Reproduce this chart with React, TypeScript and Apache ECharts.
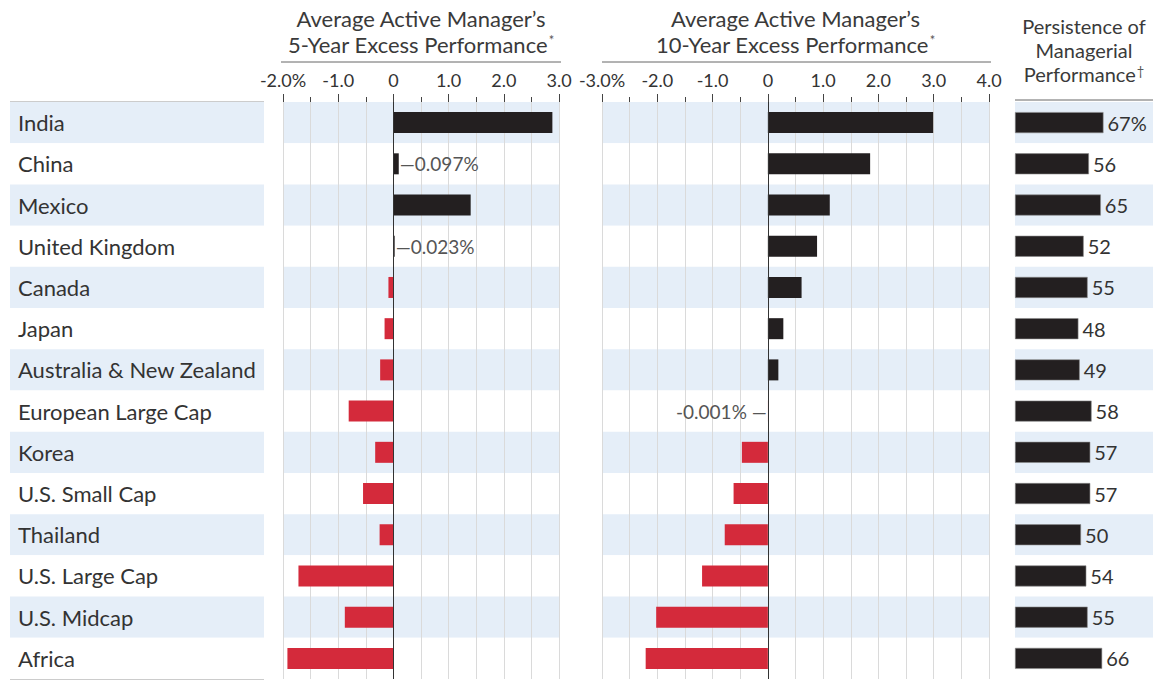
import React, { useEffect, useRef } from "react";
import * as echarts from "echarts";

const categories = [
  "India",
  "China",
  "Mexico",
  "United Kingdom",
  "Canada",
  "Japan",
  "Australia & New Zealand",
  "European Large Cap",
  "Korea",
  "U.S. Small Cap",
  "Thailand",
  "U.S. Large Cap",
  "U.S. Midcap",
  "Africa",
];
const fiveYear = [2.88, 0.097, 1.4, 0.023, -0.09, -0.16, -0.24, -0.81, -0.33, -0.55, -0.25, -1.72, -0.88, -1.92];
const tenYear = [2.99, 1.85, 1.12, 0.89, 0.61, 0.28, 0.19, -0.001, -0.47, -0.62, -0.78, -1.19, -2.02, -2.21];
const persistence = [67, 56, 65, 52, 55, 48, 49, 58, 57, 57, 50, 54, 55, 66];
const annotatedFive = ["China", "United Kingdom"];
const annotatedTen = ["European Large Cap"];

const FONT = "Lato, 'Open Sans', sans-serif";
const BLACK = "#231f20";
const RED = "#d42a3b";
const BAND = "#e5eef8";
const GRID_LINE = "#dadada";
const TEXT = "#333";

const ROW_TOP = 102;
const ROW_H = 577;
const G_LABEL = { left: 10, width: 254 };
const G1 = { left: 283, width: 276 };
const G2 = { left: 602, width: 387 };
const G3 = { left: 1015, width: 138 };

function tickFmt(min: number) {
  return (v: number) => (v === min ? v.toFixed(1) + "%" : v === 0 ? "0" : v.toFixed(1));
}

function valueAxis(gridIndex: number, min: number, max: number) {
  return {
    type: "value",
    gridIndex,
    position: "top",
    min,
    max,
    interval: 1,
    z: 1,
    axisLine: { show: false },
    axisTick: { show: true, length: 8, lineStyle: { color: "#444" } },
    minorTick: { show: true, splitNumber: 2, length: 5, lineStyle: { color: "#444" } },
    splitLine: { show: true, lineStyle: { color: GRID_LINE, width: 1 } },
    minorSplitLine: { show: true, lineStyle: { color: GRID_LINE, width: 1 } },
    axisLabel: {
      formatter: tickFmt(min),
      fontFamily: FONT,
      fontSize: 18,
      color: TEXT,
      margin: 13,
    },
  };
}

function catAxis(gridIndex: number, showLabels: boolean) {
  return {
    type: "category",
    gridIndex,
    data: categories,
    inverse: true,
    z: 0,
    axisLine: { show: false },
    axisTick: { show: false },
    splitLine: { show: false },
    splitArea: { show: true, areaStyle: { color: [BAND, "#ffffff"] } },
    axisLabel: showLabels
      ? { show: true, inside: true, margin: 8, fontFamily: FONT, fontSize: 22, color: TEXT }
      : { show: false },
  };
}

const zeroLine = {
  silent: true,
  symbol: "none",
  label: { show: false },
  lineStyle: { color: "#333", width: 1, type: "solid" },
  data: [{ xAxis: 0 }],
};

function excessSeries(
  values: number[],
  xi: number,
  annotated: string[],
  pos: "left" | "right" | ((v: number) => "left" | "right")
) {
  return {
    type: "bar",
    xAxisIndex: xi,
    yAxisIndex: xi,
    barWidth: 21,
    markLine: zeroLine,
    data: values.map((v, i) => {
      const item: any = { value: v, itemStyle: { color: v >= 0 ? BLACK : RED } };
      if (annotated.includes(categories[i])) {
        const p = typeof pos === "function" ? pos(v) : pos;
        item.label = {
          show: true,
          position: p,
          distance: 1,
          formatter: p === "right" ? "—{c}%" : "{c}% —",
          fontFamily: FONT,
          fontSize: 19,
          color: "#555",
        };
      }
      return item;
    }),
  };
}

function titleText(lines: string[], sup: string) {
  return lines.join("\n") + "{sup|" + sup + "}";
}

export default function App() {
  const ref = useRef<HTMLDivElement>(null);
  useEffect(() => {
    if (!ref.current) return;
    const chart = echarts.init(ref.current, null, { renderer: "svg" });
    const supStyle = { fontSize: 13, fontFamily: FONT, color: "#555", verticalAlign: "top", lineHeight: 16, padding: [2, 0, 0, 1] };
    const titleStyle = (size: number, lh: number) => ({
      fontFamily: FONT,
      fontSize: size,
      fontWeight: "normal",
      color: "#3a3a3a",
      lineHeight: lh,
      rich: { sup: supStyle },
    });
    const lineStyle = { stroke: "#666", lineWidth: 1 };
    const option: any = {
      animation: false,
      backgroundColor: "#ffffff",
      title: [
        {
          text: titleText(["Average Active Manager’s", "5-Year Excess Performance"], "*"),
          left: G1.left + G1.width / 2,
          top: 5,
          textAlign: "center",
          padding: 0,
          textStyle: titleStyle(22, 26),
        },
        {
          text: titleText(["Average Active Manager’s", "10-Year Excess Performance"], "*"),
          left: G2.left + G2.width / 2,
          top: 5,
          textAlign: "center",
          padding: 0,
          textStyle: titleStyle(22, 26),
        },
        {
          text: titleText(["Persistence of", "Managerial", "Performance"], "†"),
          left: G3.left + G3.width / 2,
          top: 14,
          textAlign: "center",
          padding: 0,
          textStyle: titleStyle(20, 24),
        },
      ],
      grid: [
        { left: G_LABEL.left, width: G_LABEL.width, top: ROW_TOP, height: ROW_H },
        { left: G1.left, width: G1.width, top: ROW_TOP, height: ROW_H },
        { left: G2.left, width: G2.width, top: ROW_TOP, height: ROW_H },
        { left: G3.left, width: G3.width, top: ROW_TOP, height: ROW_H },
      ],
      xAxis: [
        { type: "value", gridIndex: 0, show: false, min: 0, max: 1 },
        valueAxis(1, -2, 3),
        valueAxis(2, -3, 4),
        { type: "value", gridIndex: 3, show: false, min: 0, max: 104.5 },
      ],
      yAxis: [catAxis(0, true), catAxis(1, false), catAxis(2, false), catAxis(3, false)],
      series: [
        excessSeries(fiveYear, 1, annotatedFive, "right"),
        excessSeries(tenYear, 2, annotatedTen, (v) => (v >= 0 ? "right" : "left")),
        {
          type: "bar",
          xAxisIndex: 3,
          yAxisIndex: 3,
          barWidth: 21,
          data: persistence,
          itemStyle: { color: BLACK, borderColor: "#8a8a8a", borderWidth: 0.6 },
          label: {
            show: true,
            position: "right",
            distance: 4,
            fontFamily: FONT,
            fontSize: 20,
            color: TEXT,
            formatter: (p: any) => (p.dataIndex === 0 ? p.value + "%" : String(p.value)),
          },
        },
      ],
      graphic: [
        { type: "line", shape: { x1: G_LABEL.left, y1: ROW_TOP, x2: G_LABEL.left + G_LABEL.width, y2: ROW_TOP }, style: { stroke: "#999", lineWidth: 1 } },
        { type: "line", shape: { x1: G_LABEL.left, y1: ROW_TOP + ROW_H, x2: G_LABEL.left + G_LABEL.width, y2: ROW_TOP + ROW_H }, style: { stroke: "#999", lineWidth: 1 } },
        { type: "line", shape: { x1: G1.left - 2, y1: 62, x2: G1.left + G1.width + 2, y2: 62 }, style: lineStyle },
        { type: "line", shape: { x1: G2.left, y1: 62, x2: G2.left + G2.width + 2, y2: 62 }, style: lineStyle },
        { type: "line", shape: { x1: G3.left, y1: 100, x2: G3.left + G3.width, y2: 100 }, style: lineStyle },
      ],
    };
    chart.setOption(option);
    return () => chart.dispose();
  }, []);
  return (
    <div
      ref={ref}
      style={{ position: "fixed", left: 0, top: 0, width: 1158, height: 681, background: "#fff" }}
    />
  );
}
